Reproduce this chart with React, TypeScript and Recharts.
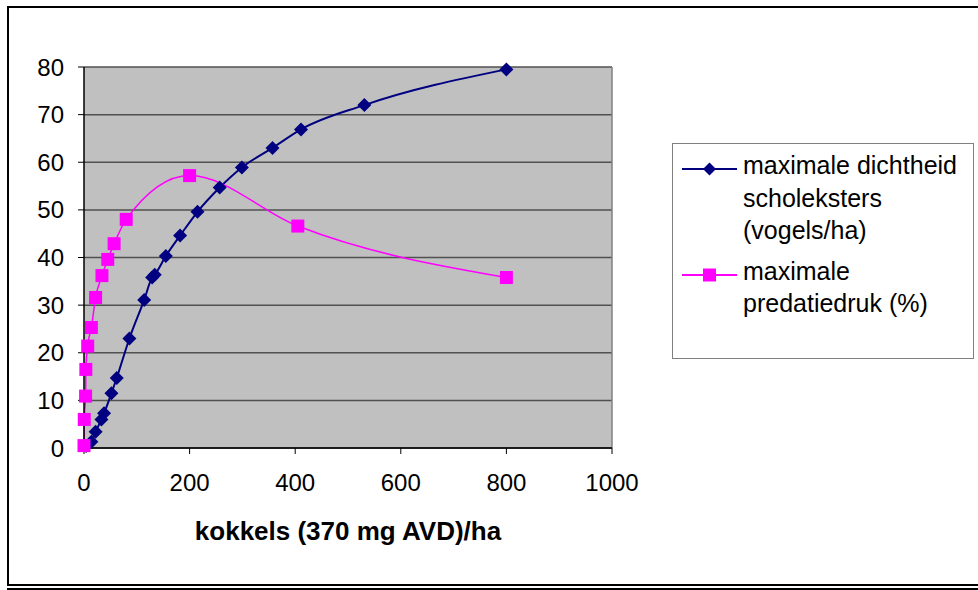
import React from 'react';
import { LineChart, Line, XAxis, YAxis, CartesianGrid, Legend, Label, ReferenceLine } from 'recharts';

// kokkels (370 mg AVD)/ha tegen maximale dichtheid scholeksters
const kokkelsDichtheid = [4, 14, 22, 33, 38, 52, 62, 86, 114, 129, 134, 155, 182, 215, 257, 299, 357, 411, 531, 800];
const dichtheid = [0.4, 1.3, 3.4, 6.0, 7.3, 11.5, 14.7, 23.0, 31.1, 35.8, 36.4, 40.3, 44.6, 49.6, 54.7, 58.9, 63.0, 66.9, 72.0, 79.5];

// kokkels tegen maximale predatiedruk
const kokkelsPredatie = [0, 0.5, 3, 3.5, 7, 14, 22, 34, 45, 57, 80, 200, 405, 800];
const predatie = [0.5, 6.0, 10.9, 16.5, 21.4, 25.3, 31.6, 36.2, 39.6, 42.9, 48.0, 57.2, 46.6, 35.8];

const xTicks = [0, 200, 400, 600, 800, 1000];
const yTicks = [0, 10, 20, 30, 40, 50, 60, 70, 80];

const NAVY = '#000080';
const PINK = '#ff00ff';
const FONT = '"Liberation Sans", Arial, sans-serif';

const dichtheidData = kokkelsDichtheid.map((x, i) => ({ x, y: dichtheid[i] }));
const predatieData = kokkelsPredatie.map((x, i) => ({ x, y: predatie[i] }));

const Diamond = (props: any) => {
  const { cx, cy } = props;
  if (cx == null || cy == null) return null;
  const r = 7;
  return <path d={`M${cx},${cy - r}L${cx + r},${cy}L${cx},${cy + r}L${cx - r},${cy}Z`} fill={NAVY} />;
};

const Square = (props: any) => {
  const { cx, cy } = props;
  if (cx == null || cy == null) return null;
  return <rect x={cx - 6.5} y={cy - 6.5} width={13} height={13} fill={PINK} />;
};

function LegendBox() {
  const text: React.CSSProperties = { fontSize: 25, lineHeight: '32.5px', color: '#000', fontFamily: FONT };
  return (
    <div style={{ width: 302, height: 216, border: '1px solid #808080', boxSizing: 'border-box', background: '#fff', position: 'relative' }}>
      <svg width={70} height={215} style={{ position: 'absolute', left: 0, top: 0 }}>
        <line x1={9} x2={64} y1={25} y2={25} stroke={NAVY} strokeWidth={2} />
        <path d="M36.5,18.5L43,25L36.5,31.5L30,25Z" fill={NAVY} />
        <line x1={9} x2={64} y1={131} y2={131} stroke={PINK} strokeWidth={2} />
        <rect x={30} y={124.5} width={13} height={13} fill={PINK} />
      </svg>
      <div style={{ position: 'absolute', left: 70, top: 5, ...text }}>
        <div>maximale dichtheid</div>
        <div>scholeksters</div>
        <div>(vogels/ha)</div>
        <div style={{ marginTop: 8 }}>maximale</div>
        <div>predatiedruk (%)</div>
      </div>
    </div>
  );
}

export default function App() {
  return (
    <div style={{ position: 'relative', width: 978, height: 590, overflow: 'hidden', background: '#fff' }}>
      <style>{'body{margin:0;overflow:hidden}'}</style>
      <div style={{ position: 'absolute', left: 7, top: 6, width: 985, height: 580, border: '2px solid #000', boxSizing: 'border-box' }}>
        <LineChart
          width={960}
          height={570}
          margin={{ top: 59, left: 15, right: 357, bottom: 35 }}
          style={{ fontFamily: FONT }}
        >
          <CartesianGrid vertical={false} fill="#c0c0c0" stroke="#505050" strokeWidth={1.5} />
          <XAxis
            dataKey="x"
            type="number"
            domain={[0, 1000]}
            ticks={xTicks}
            interval={0}
            allowDuplicatedCategory={false}
            height={95}
            tickSize={6}
            tickMargin={20}
            tick={{ fontSize: 24, fill: '#000' }}
            axisLine={{ stroke: '#000', strokeWidth: 1.5 }}
            tickLine={{ stroke: '#000' }}
          >
            <Label
              value="kokkels (370 mg AVD)/ha"
              position="insideBottom"
              offset={3}
              style={{ fontSize: 26, fontWeight: 'bold', fill: '#000' }}
            />
          </XAxis>
          <YAxis
            type="number"
            domain={[0, 80]}
            ticks={yTicks}
            interval={0}
            width={60}
            tickSize={6}
            tickMargin={14}
            tick={{ fontSize: 24, fill: '#000' }}
            axisLine={{ stroke: '#000', strokeWidth: 1.5 }}
            tickLine={{ stroke: '#000' }}
          />
          <ReferenceLine x={1000} stroke="#808080" strokeWidth={1.5} />
          <Line
            data={dichtheidData}
            dataKey="y"
            type="monotone"
            stroke={NAVY}
            strokeWidth={2}
            dot={Diamond}
            activeDot={false}
            isAnimationActive={false}
          />
          <Line
            data={predatieData}
            dataKey="y"
            type="monotone"
            stroke={PINK}
            strokeWidth={1.5}
            dot={Square}
            activeDot={false}
            isAnimationActive={false}
          />
          <Legend
            layout="vertical"
            align="center"
            verticalAlign="middle"
            content={() => <LegendBox />}
            wrapperStyle={{ position: 'absolute', left: 663, top: 135, width: 302, height: 216, bottom: 'auto', right: 'auto' }}
          />
        </LineChart>
      </div>
      <div style={{ position: 'absolute', left: 7, top: 588, width: 980, height: 2, background: '#000' }} />
    </div>
  );
}
